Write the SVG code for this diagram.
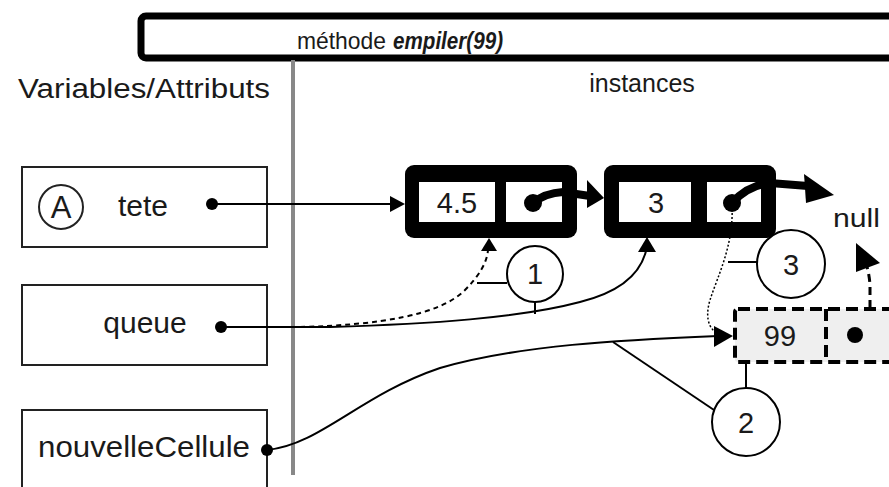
<svg xmlns="http://www.w3.org/2000/svg" width="889" height="487" viewBox="0 0 889 487">
<style>
text{font-family:"Liberation Sans",Arial,Helvetica,sans-serif;fill:#1a1a1a}
.box{fill:#fff;stroke:#222;stroke-width:2}
.cellouter{fill:#000}
.cellin{fill:#fff}
.num{font-size:29px;text-anchor:middle}
.lbl{font-size:30px;text-anchor:middle}
.circ{fill:#fff;stroke:#000;stroke-width:2}
.ln{fill:none;stroke:#000;stroke-width:2}
.thick{fill:none;stroke:#000;stroke-width:8;stroke-linecap:round}
.dash{fill:none;stroke:#000;stroke-width:4;stroke-dasharray:12 6}
</style>
<rect width="889" height="487" fill="#fff"/>
<g id="title">
<rect x="141" y="16" width="800" height="42" rx="5" fill="#fff" stroke="#000" stroke-width="7"/>
<text x="297" y="49" font-size="24" textLength="89" lengthAdjust="spacingAndGlyphs">méthode</text>
<text x="393" y="49" font-size="24" font-weight="bold" font-style="italic" textLength="110" lengthAdjust="spacingAndGlyphs">empiler(99)</text>
</g>
<g id="headers">
<line x1="293" y1="60" x2="293" y2="475" stroke="#888" stroke-width="4"/>
<text x="144" y="98" font-size="27" text-anchor="middle" textLength="252" lengthAdjust="spacingAndGlyphs">Variables/Attributs</text>
<text x="642" y="92" font-size="25" text-anchor="middle">instances</text>
</g>
<g id="var-tete">
<rect class="box" x="22" y="167" width="245" height="80"/>
<circle cx="61" cy="207" r="22" fill="none" stroke="#222" stroke-width="2"/>
<text x="61" y="218" font-size="31" text-anchor="middle">A</text>
<text class="lbl" x="143" y="216">tete</text>
<circle cx="212" cy="204" r="6" fill="#000"/>
</g>
<g id="var-queue">
<rect class="box" x="22" y="285" width="245" height="80"/>
<text class="lbl" x="145" y="333">queue</text>
<circle cx="221" cy="327" r="6" fill="#000"/>
</g>
<g id="var-nouvelleCellule">
<rect class="box" x="22" y="410" width="245" height="80"/>
<text class="lbl" x="144" y="457" textLength="212" lengthAdjust="spacingAndGlyphs">nouvelleCellule</text>
<circle cx="267" cy="450" r="6" fill="#000"/>
</g>
<g id="cell-45">
<rect class="cellouter" x="405" y="165" width="172" height="73" rx="9"/>
<rect class="cellin" x="419" y="182" width="76" height="40"/>
<rect class="cellin" x="506" y="182" width="56" height="40"/>
<text class="num" x="457" y="213">4.5</text>
</g>
<g id="cell-3">
<rect class="cellouter" x="604" y="165" width="172" height="73" rx="9"/>
<rect class="cellin" x="619" y="182" width="72" height="40"/>
<rect class="cellin" x="707" y="182" width="54" height="40"/>
<text class="num" x="656" y="213">3</text>
</g>
<g id="cell-99">
<rect class="dash" x="735" y="309" width="200" height="53" rx="3" style="fill:#efefef"/>
<line class="dash" x1="826" y1="309" x2="826" y2="362"/>
<text class="num" x="780" y="346">99</text>
<circle cx="855" cy="335" r="8" fill="#000"/>
</g>
<g id="null">
<text x="833" y="227" font-size="25" textLength="47" lengthAdjust="spacingAndGlyphs">null</text>
</g>
<g id="step1">
<circle class="circ" cx="535" cy="274" r="28"/>
<text class="num" x="535" y="284" font-size="27">1</text>
</g>
<g id="step3">
<circle class="circ" cx="791" cy="264" r="34"/>
<text class="num" x="791" y="275" font-size="27">3</text>
</g>
<g id="step2">
<circle class="circ" cx="746" cy="422" r="34"/>
<text class="num" x="746" y="433" font-size="27">2</text>
</g>
<g id="connectors">
<line class="ln" x1="212" y1="204" x2="393" y2="204"/>
<polygon points="405,204 390,196 390,212" fill="#000"/>
<circle cx="533" cy="203" r="9" fill="#000"/>
<path class="thick" d="M533,203 Q545,193 563,192 L590,196"/>
<polygon points="604,198 587,180 587,208" fill="#000"/>
<circle cx="732" cy="203" r="9" fill="#000"/>
<path class="thick" d="M732,203 Q748,185 770,183 L808,186"/>
<polygon points="834,195 804,174 806,203" fill="#000"/>
<path d="M300,327 C380,325 440,315 465,290 C480,275 487,262 488,250" fill="none" stroke="#000" stroke-width="2" stroke-dasharray="5 4"/>
<polygon points="489,238 481,251 497,251" fill="#000"/>
<path class="ln" d="M221,327 L330,327 C430,324 520,318 580,302 C620,292 640,275 646,251"/>
<polygon points="647,237 638,252 656,252" fill="#000"/>
<path class="ln" d="M267,450 C320,445 360,395 440,368 C520,345 620,340 718,336"/>
<path d="M732,205 C734,245 718,275 710,300 C704,320 710,333 724,336" fill="none" stroke="#000" stroke-width="1.5" stroke-dasharray="2 2"/>
<polygon points="733,336 714,326 714,347" fill="#000"/>
<path d="M870,308 L870,285 Q869,270 864,258" fill="none" stroke="#000" stroke-width="3" stroke-dasharray="8 5"/>
<polygon points="856,243 880,263 856,272" fill="#000"/>
<line class="ln" x1="477" y1="283" x2="507" y2="283"/>
<line class="ln" x1="535" y1="302" x2="535" y2="314"/>
<line class="ln" x1="728" y1="262" x2="757" y2="262"/>
<line class="ln" x1="714" y1="410" x2="613" y2="342"/>
<line class="ln" x1="746" y1="388" x2="746" y2="363"/>
</g>
</svg>
